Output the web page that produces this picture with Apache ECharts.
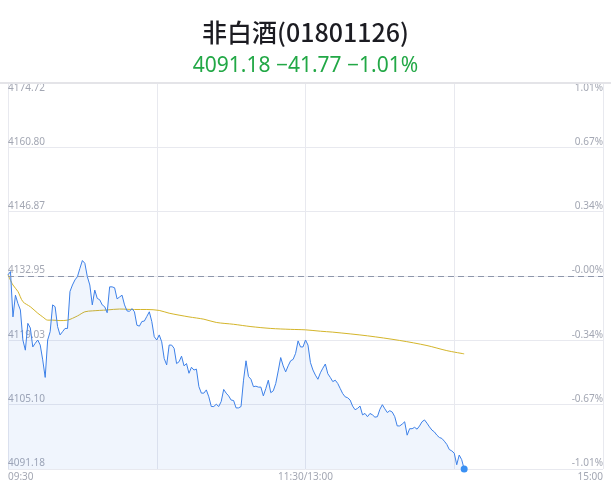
<!DOCTYPE html>
<html>
<head>
<meta charset="utf-8">
<script src="https://cdn.jsdelivr.net/npm/echarts@6/dist/echarts.min.js"></script>
<style>
html,body{margin:0;padding:0;background:#fff;}
#picture{width:611px;height:492px;}
</style>
</head>
<body>
<div id="picture"></div>
<script>
// 昨收与坐标轴范围
var preClose = 4132.95;
var yMin = 4091.18;
var yMax = 4174.72;
var xTickLabels = ['09:30', '11:30/13:00', '15:00'];

// 分时价格(每分钟)
var prices = [
    4133.2, 4133.9, 4124.1, 4128.8, 4127.0, 4125.6, 4119.1, 4116.9, 4122.7, 4121.7,
    4117.6, 4118.4, 4119.1, 4118.0, 4114.8, 4111.0, 4119.1, 4120.9, 4126.7, 4126.3,
    4122.0, 4120.2, 4120.9, 4121.6, 4121.6, 4129.6, 4131.0, 4132.1, 4132.8, 4134.6,
    4136.3, 4135.7, 4132.8, 4131.0, 4126.7, 4129.9, 4128.1, 4127.8, 4126.7, 4126.3,
    4125.0, 4130.6, 4130.6, 4130.4, 4128.0, 4128.4, 4128.8, 4126.7, 4125.4, 4125.3,
    4125.9, 4125.2, 4122.3, 4122.1, 4123.1, 4123.2, 4124.2, 4125.2, 4123.1, 4119.8,
    4119.1, 4120.2, 4118.7, 4115.1, 4113.7, 4118.0, 4118.0, 4117.3, 4114.0, 4114.4,
    4115.6, 4113.5, 4114.0, 4111.9, 4113.2, 4112.6, 4112.8, 4109.0, 4107.6, 4107.6,
    4108.3, 4106.8, 4104.7, 4104.7, 4105.2, 4104.7, 4105.8, 4108.4, 4107.6, 4107.0,
    4106.1, 4106.0, 4104.4, 4104.4, 4104.7, 4110.4, 4114.6, 4111.2, 4110.6, 4109.0,
    4109.1, 4108.9, 4108.9, 4107.0, 4108.6, 4110.4, 4107.7, 4108.1, 4109.7, 4112.4,
    4115.3, 4113.5, 4112.2, 4113.5, 4114.6, 4114.9, 4116.2, 4118.9, 4117.6, 4117.6,
    4119.1, 4118.0, 4114.2, 4112.6, 4111.5, 4110.6, 4112.0, 4113.0, 4113.9, 4111.8,
    4111.0, 4110.1, 4110.4, 4109.7, 4108.6, 4107.5, 4106.8, 4106.6, 4106.1, 4104.8,
    4104.0, 4104.3, 4104.8, 4102.9, 4103.2, 4102.5, 4103.2, 4102.9, 4102.4, 4102.5,
    4104.1, 4105.1, 4104.2, 4103.4, 4103.8, 4103.5, 4102.5, 4100.5, 4100.5, 4100.9,
    4101.4, 4098.5, 4099.9, 4099.9, 4100.2, 4099.8, 4100.5, 4101.4, 4101.8, 4101.1,
    4100.3, 4099.6, 4099.2, 4098.5, 4098.0, 4097.8, 4097.2, 4096.5, 4095.4, 4095.1,
    4094.6, 4092.1, 4094.2, 4093.2, 4091.18
];

// 均价线(读图取点: 分钟序号, 均价)
var avgIdx = [0, 2, 4, 6, 9, 12, 14, 16, 18, 21, 24, 28, 31, 34, 40, 45, 51, 56, 61, 65,
    73, 79, 84, 91, 98, 106, 114, 120, 126, 131, 145, 158, 169, 177, 184];
var avgVal = [4133.2, 4131.0, 4129.6, 4127.4, 4126.3, 4124.9, 4124.1, 4123.4, 4123.4, 4123.3,
    4123.4, 4124.3, 4125.2, 4125.4, 4125.6, 4125.8, 4125.7, 4125.7, 4125.5, 4124.9,
    4124.1, 4123.6, 4122.9, 4122.5, 4122.0, 4121.6, 4121.4, 4121.3, 4121.0, 4120.8,
    4120.0, 4119.0, 4117.9, 4116.8, 4116.1];

// 交易时间轴 09:30-11:30, 13:00-15:00
function pad(n) { return (n < 10 ? '0' : '') + n; }
var times = [];
for (var m = 0; m <= 120; m++) {
    var t = 9 * 60 + 30 + m;
    times.push(pad(Math.floor(t / 60)) + ':' + pad(t % 60));
}
for (var m2 = 1; m2 <= 120; m2++) {
    var t2 = 13 * 60 + m2;
    times.push(pad(Math.floor(t2 / 60)) + ':' + pad(t2 % 60));
}

var priceData = prices.map(function (v, i) {
    if (i == prices.length - 1) {
        return {value: v, symbol: 'circle', symbolSize: 7,
            itemStyle: {color: '#3a90f3'}};
    }
    return v;
});
var avgData = avgIdx.map(function (idx, i) { return [idx, avgVal[i]]; });

var last = prices[prices.length - 1];
var chg = last - preClose;
var pct = chg / preClose * 100;
var subText = last.toFixed(2) + ' \u2212' + Math.abs(chg).toFixed(2) + ' \u2212' + Math.abs(pct).toFixed(2) + '%';

var interval = (yMax - yMin) / 6;
var labelColor = '#a3a7b3';
var gridColor = '#e8e9ef';

function leftLabel(v) {
    var s = v.toFixed(2);
    return Math.abs(v - yMax) < 0.01 ? ' \n' + s : s + '\n ';
}
function rightLabel(v) {
    var p = (v - preClose) / preClose * 100;
    var s = Math.abs(p).toFixed(2);
    s = (p < 0.005 ? '-' : '') + s + '%';
    return Math.abs(v - yMax) < 0.01 ? ' \n' + s : s + '\n ';
}

var myChart = echarts.init(document.getElementById('picture'));
var option = {
    backgroundColor: '#ffffff',
    animation: false,
    title: [
        {
            text: '非白酒(01801126)',
            left: 'center',
            top: 14,
            textStyle: {fontFamily: 'Noto Sans CJK SC', fontSize: 25, fontWeight: 500, color: '#1c1c22', lineHeight: 27}
        },
        {
            text: subText,
            left: 'center',
            top: 49,
            textStyle: {fontFamily: 'Noto Sans', fontSize: 21, fontWeight: 'normal', color: '#22a846', lineHeight: 24}
        }
    ],
    graphic: [{
        type: 'line',
        shape: {x1: 0, y1: 83, x2: 611, y2: 83},
        style: {stroke: '#e4e4e8', lineWidth: 2},
        z: 10
    }],
    grid: {left: 8, right: 8, top: 83, bottom: 23},
    xAxis: {
        type: 'category',
        data: times,
        boundaryGap: false,
        axisLine: {show: false},
        axisTick: {show: false},
        axisLabel: {
            color: labelColor,
            fontSize: 10,
            fontFamily: 'Noto Sans',
            margin: 3,
            interval: function (i) { return i == 0 || i == 120 || i == 240; },
            formatter: function (v, i) {
                if (i == 0) return xTickLabels[0];
                if (i == 120) return xTickLabels[1];
                return xTickLabels[2];
            },
            alignMinLabel: 'left',
            alignMaxLabel: 'right'
        },
        splitLine: {
            show: true,
            interval: function (i) { return i % 60 == 0; },
            lineStyle: {color: gridColor, width: 1}
        }
    },
    yAxis: [
        {
            type: 'value',
            min: yMin,
            max: yMax,
            interval: interval,
            position: 'left',
            axisLine: {show: false},
            axisTick: {show: false},
            axisLabel: {
                inside: true,
                margin: 0,
                color: labelColor,
                fontSize: 10,
                fontFamily: 'Noto Sans',
                lineHeight: 11,
                verticalAlign: 'middle',
                formatter: leftLabel
            },
            splitLine: {lineStyle: {color: gridColor, width: 1}}
        },
        {
            type: 'value',
            min: yMin,
            max: yMax,
            interval: interval,
            position: 'right',
            axisLine: {show: false},
            axisTick: {show: false},
            axisLabel: {
                inside: true,
                margin: 0,
                color: labelColor,
                fontSize: 10,
                fontFamily: 'Noto Sans',
                lineHeight: 11,
                verticalAlign: 'middle',
                formatter: rightLabel
            },
            splitLine: {show: false}
        }
    ],
    series: [
        {
            name: '价格',
            type: 'line',
            data: priceData,
            symbol: 'none',
            showSymbol: true,
            showAllSymbol: true,
            lineStyle: {color: '#3d80e8', width: 1},
            areaStyle: {color: 'rgba(61,128,232,0.11)', origin: 'start'},
            z: 3,
            markLine: {
                silent: true,
                symbol: 'none',
                label: {show: false},
                lineStyle: {color: '#8d96ab', type: [6, 4], width: 1},
                data: [{yAxis: preClose}]
            }
        },
        {
            name: '均价',
            type: 'line',
            data: avgData,
            showSymbol: false,
            smooth: 0.3,
            lineStyle: {color: '#d4b52a', width: 1},
            z: 2
        }
    ]
};
myChart.setOption(option);
</script>
</body>
</html>
